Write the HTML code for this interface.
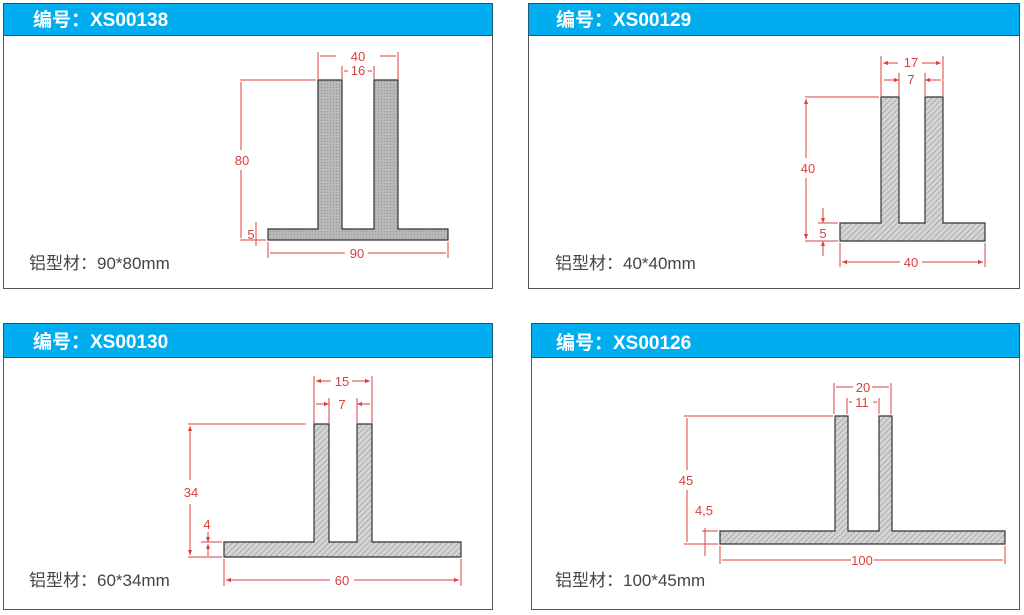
<!DOCTYPE html>
<html><head><meta charset="utf-8">
<style>
html,body{margin:0;padding:0;background:#fff;}
svg{display:block;}
.t{font-family:"Liberation Sans","Noto Sans CJK SC",sans-serif;}
</style></head>
<body>
<svg width="1024" height="615" viewBox="0 0 1024 615" xmlns="http://www.w3.org/2000/svg">
<defs>
<pattern id="h" width="4" height="4" patternUnits="userSpaceOnUse" patternTransform="rotate(45)">
<rect width="4" height="4" fill="#d4d4d4"/><line x1="0" y1="0" x2="0" y2="4" stroke="#8a8a8a" stroke-width="1"/>
</pattern>
<pattern id="h2" width="3" height="3" patternUnits="userSpaceOnUse">
<rect width="3" height="3" fill="#b8b8b8"/><rect width="1" height="1" fill="#959595"/>
</pattern>
<marker id="a" viewBox="0 0 6 6" refX="6" refY="3" markerWidth="5" markerHeight="5" orient="auto-start-reverse"><path d="M0,0.5 L6,3 L0,5.5 z" fill="#d9403f"/></marker>
</defs>

<g fill="#fff" stroke="#555" stroke-width="1">
<rect x="3.5" y="3.5" width="489" height="285"/>
<rect x="528.5" y="3.5" width="491" height="285"/>
<rect x="3.5" y="323.5" width="489" height="286"/>
<rect x="531.5" y="323.5" width="488" height="286"/>
</g>
<g fill="#00aeef" stroke="#1a5a7a" stroke-width="1">
<rect x="3.5" y="3.5" width="489" height="32"/>
<rect x="528.5" y="3.5" width="491" height="32"/>
<rect x="3.5" y="323.5" width="489" height="34"/>
<rect x="531.5" y="323.5" width="488" height="34"/>
</g>
<g class="t" fill="#fff" font-size="19" font-weight="bold">
<text x="33" y="26">编号：XS00138</text>
<text x="556" y="26">编号：XS00129</text>
<text x="33" y="348">编号：XS00130</text>
<text x="556" y="349">编号：XS00126</text>
</g>
<g class="t" fill="#444" font-size="17">
<text x="29" y="269">铝型材：90*80mm</text>
<text x="555" y="269">铝型材：40*40mm</text>
<text x="29" y="586">铝型材：60*34mm</text>
<text x="555" y="586">铝型材：100*45mm</text>
</g>

<g stroke="#333" stroke-width="1.2">
<path fill="url(#h2)" d="M268,229 H318 V80 H342 V229 H374 V80 H398 V229 H448 V240 H268 Z"/>
<path fill="url(#h)" d="M840,223 H881 V97 H899 V223 H925 V97 H943 V223 H985 V241 H840 Z"/>
<path fill="url(#h)" d="M224,542 H314 V424 H329 V542 H357 V424 H372 V542 H461 V557 H224 Z"/>
<path fill="url(#h)" d="M720,531 H835 V416 H848 V531 H879 V416 H892 V531 H1005 V544 H720 Z"/>
</g>

<g stroke="#d9403f" stroke-width="1" fill="none">
<path d="M318,52 V80 M398,52 V80 M342,66 V80 M374,66 V80 M240,80 H316 M240,240 H266 M268,242 V258 M448,242 V258 M256,222 V246"/>
<line x1="320" y1="56" x2="336" y2="56"/><line x1="380" y1="56" x2="396" y2="56"/>
<line x1="344" y1="71" x2="348" y2="71"/><line x1="368" y1="71" x2="372" y2="71"/>
<line x1="241" y1="82" x2="241" y2="150"/><line x1="241" y1="170" x2="241" y2="238"/>
<line x1="270" y1="253" x2="345" y2="253"/><line x1="368" y1="253" x2="446" y2="253"/>
<path d="M881,56 V97 M943,56 V97 M899,73 V97 M925,73 V97 M805,97 H879 M805,241 H838 M840,243 V267 M985,243 V267"/>
<line x1="883" y1="63" x2="898" y2="63" marker-start="url(#a)"/><line x1="922" y1="63" x2="941" y2="63" marker-end="url(#a)"/>
<line x1="884" y1="80" x2="899" y2="80" marker-end="url(#a)"/><line x1="941" y1="80" x2="925" y2="80" marker-end="url(#a)"/>
<line x1="806" y1="99" x2="806" y2="158" marker-start="url(#a)"/><line x1="806" y1="178" x2="806" y2="239" marker-end="url(#a)"/>
<line x1="823" y1="208" x2="823" y2="223" marker-end="url(#a)"/><line x1="823" y1="256" x2="823" y2="241" marker-end="url(#a)"/>
<line x1="818" y1="223" x2="838" y2="223"/>
<line x1="842" y1="262" x2="900" y2="262" marker-start="url(#a)"/><line x1="922" y1="262" x2="983" y2="262" marker-end="url(#a)"/>
<path d="M314,376 V424 M372,376 V424 M329,398 V424 M357,398 V424 M188,424 H306 M188,557 H222 M224,559 V586 M461,559 V586 M201,542 H222"/>
<line x1="316" y1="381" x2="331" y2="381" marker-start="url(#a)"/><line x1="352" y1="381" x2="370" y2="381" marker-end="url(#a)"/>
<line x1="316" y1="404" x2="329" y2="404" marker-end="url(#a)"/><line x1="370" y1="404" x2="357" y2="404" marker-end="url(#a)"/>
<line x1="190" y1="426" x2="190" y2="480" marker-start="url(#a)"/><line x1="190" y1="504" x2="190" y2="555" marker-end="url(#a)"/>
<line x1="208" y1="532" x2="208" y2="542" marker-end="url(#a)"/><line x1="208" y1="556" x2="208" y2="544" marker-end="url(#a)"/>
<line x1="226" y1="580" x2="330" y2="580" marker-start="url(#a)"/><line x1="354" y1="580" x2="459" y2="580" marker-end="url(#a)"/>
<path d="M834,383 V414 M891,383 V414 M847,398 V414 M879,398 V414 M684,416 H833 M684,544 H718 M720,546 V564 M1005,546 V564 M702,531 H718 M705,528 V556"/>
<line x1="836" y1="387" x2="853" y2="387"/><line x1="872" y1="387" x2="889" y2="387"/>
<line x1="849" y1="402" x2="852" y2="402"/><line x1="873" y1="402" x2="877" y2="402"/>
<line x1="687" y1="418" x2="687" y2="470"/><line x1="687" y1="490" x2="687" y2="542"/>
<line x1="722" y1="560" x2="851" y2="560"/><line x1="874" y1="560" x2="1003" y2="560"/>
</g>
<g class="t" fill="#d9403f" font-size="13" text-anchor="middle">
<text x="358" y="61">40</text><text x="358" y="75">16</text>
<text x="242" y="165">80</text><text x="251" y="239">5</text><text x="357" y="258">90</text>
<text x="911" y="67">17</text><text x="911" y="84">7</text>
<text x="808" y="173">40</text><text x="823" y="238">5</text><text x="911" y="267">40</text>
<text x="342" y="386">15</text><text x="342" y="409">7</text>
<text x="191" y="497">34</text><text x="207" y="529">4</text><text x="342" y="585">60</text>
<text x="863" y="392">20</text><text x="862" y="407">11</text>
<text x="686" y="485">45</text><text x="704" y="515">4,5</text><text x="862" y="565">100</text>
</g>
</svg>
</body></html>
